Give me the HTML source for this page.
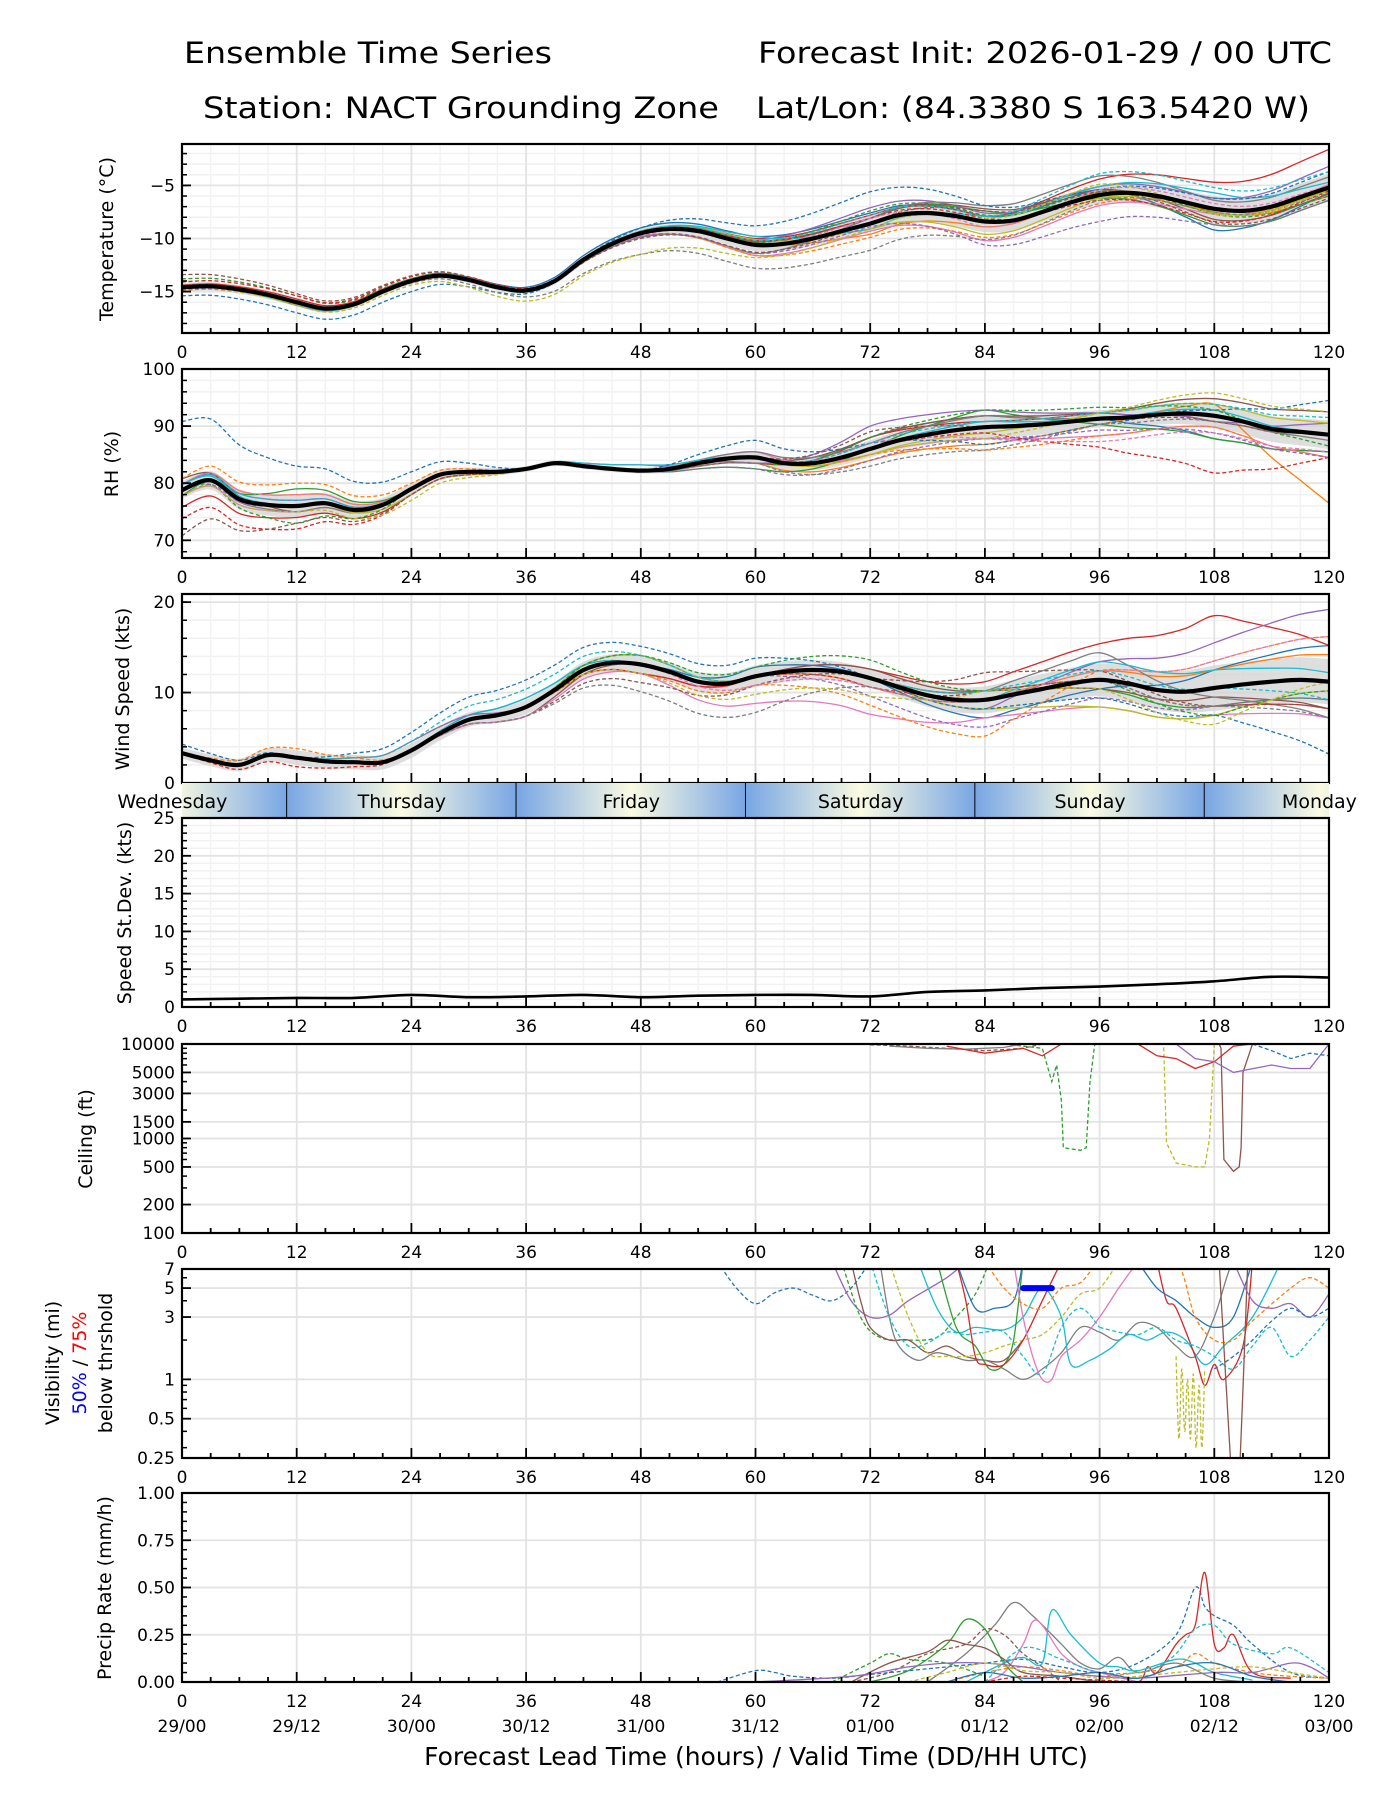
<!DOCTYPE html>
<html><head><meta charset="utf-8"><style>
html,body{margin:0;padding:0;background:#fff}
svg{display:block;font-family:"DejaVu Sans","Liberation Sans",sans-serif}
</style></head><body>
<svg id="chart" xmlns="http://www.w3.org/2000/svg" width="1400" height="1800" viewBox="0 0 1400 1800">
<rect width="1400" height="1800" fill="#fff"/>
<text x="368" y="63" font-size="29" text-anchor="middle" textLength="368" lengthAdjust="spacingAndGlyphs">Ensemble Time Series</text>
<text x="461" y="118" font-size="29" text-anchor="middle" textLength="516" lengthAdjust="spacingAndGlyphs">Station: NACT Grounding Zone</text>
<text x="1045" y="63" font-size="29" text-anchor="middle" textLength="574" lengthAdjust="spacingAndGlyphs">Forecast Init: 2026-01-29 / 00 UTC</text>
<text x="1033" y="118" font-size="29" text-anchor="middle" textLength="554" lengthAdjust="spacingAndGlyphs">Lat/Lon: (84.3380 S 163.5420 W)</text>
<g id="root"></g>
</svg>
<script>
// ---------- data ----------
const hours3 = [0,3,6,9,12,15,18,21,24,27,30,33,36,39,42,45,48,51,54,57,60,63,66,69,72,75,78,81,84,87,90,93,96,99,102,105,108,111,114,117,120];
const hours12 = [0,12,24,36,48,60,72,84,96,108,120];
const tempMean = [-14.6,-14.5,-14.8,-15.3,-16.0,-16.6,-16.2,-15.0,-14.0,-13.5,-13.9,-14.6,-14.9,-14.0,-12.0,-10.5,-9.5,-9.1,-9.3,-10.0,-10.6,-10.5,-10.0,-9.3,-8.6,-7.8,-7.6,-7.9,-8.4,-8.3,-7.5,-6.6,-5.9,-5.7,-6.0,-6.6,-7.2,-7.4,-7.0,-6.1,-5.2];
const rhMean = [78.8,80.5,77.2,76.2,76.0,76.5,75.3,76.2,79.0,81.5,82.0,82.0,82.5,83.5,83.0,82.5,82.2,82.5,83.5,84.3,84.5,83.5,83.5,84.5,86.0,87.5,88.5,89.3,89.8,90.0,90.3,90.8,91.3,91.5,92.0,92.2,91.8,90.8,89.5,89.0,88.5];
const windMean = [3.3,2.5,2.0,3.1,2.8,2.4,2.3,2.3,3.6,5.5,7.0,7.5,8.4,10.3,12.5,13.3,13.1,12.3,11.2,11.0,11.8,12.3,12.5,12.3,11.6,10.6,9.7,9.2,9.2,9.8,10.4,11.0,11.4,11.0,10.3,10.1,10.5,10.9,11.2,11.4,11.2];
const tempSpread = [0.4,0.4,0.3,0.3,0.4,0.6,0.8,1.0,0.9,1.2,1.3];
const rhSpread = [1.5,2,1,0.5,0.5,1,1.5,2,1.5,2,2.5];
const windSpread = [0.6,0.8,0.8,0.8,1,1.2,1.0,1.5,1.8,2.5,2.5];
const tempOff = [
[0,0,0.2,0.3,0.5,0.8,1.0,0.5,0.5,-2.0,-0.5],[0,-0.2,-0.1,0,0,0.2,-1,-0.5,0.3,-0.3,-0.8],[0.1,0,0,0.1,0.2,0.4,0.5,1.0,-0.3,-1.5,-1.2],[0.2,0.3,0.2,0,0,0.6,0.8,0.5,1.5,2.5,3.6],[0,0.1,0,0,0.2,0.5,1.5,0.8,0.8,1.0,2.0],
[0,0,0.1,0,0.1,0.3,0.5,1.2,0.5,-1.0,-0.6],[-0.1,0,-0.1,0,-0.3,-1.0,-0.7,-1.8,-1.0,-0.5,0.3],[0,0,0,0,-0.4,-0.8,0.5,1.5,1.8,0.8,1.0],[-0.1,0,0,0,0.2,0.5,-0.5,-1.2,-0.3,-0.4,-0.2],[0,-0.3,0,0,0.1,0.8,-0.5,0.5,0.8,1.5,0.5],
[-0.8,-1.0,-1.0,-0.3,0.5,1.8,3.0,1.5,0.5,1.0,1.5],[-0.3,-0.2,0,0,-0.3,-1.0,-1.3,-1.5,-0.8,0,-0.4],[0.8,0.6,0.2,0.2,0,0.2,1.2,0.6,0.3,-0.5,-0.8],[0.5,0.6,0.4,0.2,0,0.4,0.5,0.3,-0.5,-1.2,-0.3],[-0.2,-0.2,0,0,-0.3,-0.8,-0.3,-2.2,-2.5,-1.5,-1.2],
[1.2,0.8,0.5,0,-0.5,-0.7,0,1.0,0.3,-1.3,-1.0],[0,-0.1,0,0,-0.2,0,0.5,-0.5,0.5,0.5,0.2],[0.2,0,-0.2,-0.6,-2.0,-2.2,-2.5,-1.7,-0.5,-0.3,-0.5],[-0.1,-0.3,-0.4,-1.0,-2.0,-1.2,-0.5,0.3,1.0,-0.5,-0.3],[0,0,0,0,0.2,0.4,0.8,0.5,2.0,2.0,1.5]];
const rhOff = [
[0,0,0,0,0,0,2,2,0,-4,-3],[1,2,0,0,0,-1,-2,-3,-1,2,-12],[-1,3,0,0,0,-2,0,3,-1,-4,-3],[-3,-2,-1,0,0,-1,2,1,1,-1,0],[1,1,0,0,1,-1,4,3,1,-1,2],
[2,-1,0,0,0,0,2,2,1,3,4],[-1,-1,0,0,0,1,-1,-2,-3,-2,-4],[0,-1,0,0,0,1,1,2,0,0,-1],[0,0,-1,0,0,0,-1,-1,1,2,2],[1,0,0,0,1,0,0,1,0,1,0],
[12,7,3,0,0,3,1,-3,-1,1,6],[2,4,1,0,0,0,-1,-4,-3,-2,-4],[0,-3,0,0,0,-1,2,3,2,1,-2],[-5,-4,-1,0,0,0,0,-1,-5,-10,-4],[-1,0,0,0,0,-2,-2,-2,-2,-3,-4],
[-8,-3,-1,0,0,0,3,0,0,-1,0],[1,2,0,0,0,0,1,-2,-4,-3,-3],[0,0,0,0,0,-1,-3,-4,-1,-1,0],[-1,-1,-2,0,0,0,-1,-2,1,4,4],[1,1,0,0,0,0,1,1,1,2,3]];
const windOff = [
[0,0,0,1,0,1,0,-2,-1,2,4],[0,0,0,0,0,0,-1,0,1,2,3],[0,0,0,0,1,0,0,1,-1,-2,-2],[0,0,0,0,-1,0,1,2,4,8,4],[0,0,0,0,1,0,0,-1,2,5,8],
[0,0,0,-1,0,0,1,1,-1,-1,-3],[0,0,0,-1,-1,-3,-4,-2,-3,-3,-4],[0,0,1,0,0,0,0,1,3,-1,-4],[0,0,0,0,1,0,0,-1,-3,-3,-1],[0,0,0,1,0,0,0,0,2,2,1],
[1,0,2,3,2,2,0,-1,-2,-3,-8],[0,1,0,0,-1,-1,-3,-4,1,3,5],[0,0,0,0,1,1,2,1,0,-3,-1],[0,-1,0,0,-1,0,-1,1,0,-2,-3],[0,0,1,0,0,0,-2,-3,-2,-2,-2],
[0,0,0,-1,-2,-1,0,3,1,-2,-3],[0,0,0,0,0,-1,-1,0,1,3,5],[0,0,0,-1,-3,-4,-1,0,0,-2,-4],[0,0,0,0,-1,-2,-2,1,-1,-4,0],[0,0,1,2,1,0,0,1,1,0,-2]];
const sdHours = [0,6,12,18,24,30,36,42,48,54,60,66,72,78,84,90,96,102,108,114,120];
const sdValues = [1.0,1.1,1.2,1.2,1.6,1.3,1.4,1.6,1.3,1.5,1.6,1.6,1.4,2.0,2.2,2.5,2.7,3.0,3.4,4.0,3.9];
const ceilHours = [[86,90,91,91.5,92,92.2,94,94.6,95,95.5],[101,102.7,103,104,106,107,107.5,108],[108.5,108.7,109,110,110.6,110.8,111,112],[72,76,80,84,88,90],[74,78,82,86,88],[80,84,88,90,92],[100,102,104,106,108,110,112],[104,106,108,110,114,116,118,120],[112,114,116,118,120]];
const ceilValues = [[10000,9000,4000,6000,2500,800,750,800,4000,10000],[10000,10000,900,550,500,500,1000,10000],[10000,9000,600,450,500,800,5000,10000],[9800,9500,9000,8500,9000,10000],[9500,9000,8800,9200,10000],[9500,8000,9000,7500,10000],[10000,7500,7000,5500,6500,9500,10000],[10000,7000,6500,5000,6000,5500,5500,10000],[10000,8500,7000,8000,7500]];
const visHours = [[56,58,60,62,64,66,68,70,72],[68,70,72,74,76,80,82],[69,71,73,76,79,81,83,84.5],[70,71,72,74,76,78,80,82,84,86,88],[73,74,75,77,79,82,84,86,88,90,92,94,96,98,100,102,104,106,108,110,112],[74,76,78,80,82,84,86,88,90,92,94,96,98],[77,79,81,83,86,88,90,92,93,95,97,99,101,103,105,107,109,112,115],[79,81,83,84.5,86,87,88],[81,82,83,84,86,88,90,92],[102,103,104,106,107,108,109,111,112],[81,83,85,87,88],[100,102,104,106,108,110,112],[87,88,89,90,91,92,94,96,98,100],[72,74,76,78,80,82,84,86,88,90,92,94,96],[96,98,100,102,104,106,108,110,112,114,116,118,120],[84,86,88,90,92,94,96,98],[100,104,106,108,110,112,116,118,120],[104,104.3,104.6,104.9,105.2,105.5,105.8,106.1,106.4,106.7,107],[108.5,109.2,110,110.5,111.5],[110,112,114,116,118,120],[108,110,112,114,116,118,120]];
const visValues = [[8,5,3.8,4.6,5,4.4,4,5,8],[8,4,3,3.1,4,6,8],[8,3,2.1,2,2.1,3,4.5,8],[8,4,2.5,2,2,1.6,1.8,1.5,1.4,1.4,2],[8,3,1.8,1.4,1.6,1.4,1.4,1.2,1.0,1.2,1.6,2.5,2.3,2.0,2.7,2.5,1.8,1.5,3,8,8],[8,3,1.6,1.5,1.5,1.6,1.8,2.0,2.2,3,4.5,5,8],[8,3.5,2.3,2.5,2.4,3,5,3,1.3,1.4,1.7,2.2,2.0,2.3,2.0,1.3,1.8,3,8],[8,2.5,1.8,1.2,1.3,2,8],[8,4,1.5,1.3,1.3,2,4,8],[8,4,3.5,1.5,0.9,1.3,1.0,1.8,8],[8,3.5,3.5,4,8],[8,5,4,3,2.5,3,8],[8,3,1.5,1.0,1.0,1.5,2,3,5,8],[8,3,1.8,1.9,2.3,2.2,2.3,2.3,1.5,1.1,2.5,3.5,2.5],[2.5,2.3,2.2,2.5,2.0,1.8,1.5,1.2,1.8,2.5,1.5,2,3],[8,5,3.8,3.5,5,5.5,8,8],[8,8,3,2,2,2.8,5,6,5],[1.5,0.35,1.2,0.4,1.0,0.35,1.1,0.3,0.9,0.3,1.2],[8,1,0.12,0.12,8],[8,4,3.5,3.8,3,4.5],[1.2,1.5,2,2.8,3.5,3,3.5]];
const visColors = [0,4,2,5,7,8,9,2,3,3,0,0,6,9,9,1,1,8,5,4,0];
const visDashed = [1,0,1,0,0,1,0,0,0,0,0,0,0,1,1,1,1,1,0,0,1];
const thrHours = [88,91];
const thrValues = [5,5];
const prHours = [[56,60,62,64,68,72,76,80,84,88,92,96,100,104,106,107,108,110,112,116,120],[96,100,101,102,104,105,106,107,108,109,110,112,116],[78,82,85,87,89,92,94,96,98,100,104,108,112],[82,86,88,90,91,93,96,98,100,104,106,108,112],[84,86,88,89,90,92,94,96,100],[70,74,78,82,84,86,88,90,92],[72,76,80,82,84,86,88],[68,72,74,76,80,84],[70,74,78,80,82,84,86,88,92,96],[84,88,92,96,100,102,104,106,108,110,114,116,120],[80,84,88,92,96,100,104,106,108,112,116,120],[60,70,76,80,84,88,92,96,100,108,112,116,118,120],[76,80,84,88,92,96,100,104,108,112,116,120],[80,84,88,92,96,100,104,108,112,116],[84,88,92,96,100]];
const prValues = [[0,0.06,0.05,0.03,0.02,0.04,0.06,0.08,0.1,0.12,0.08,0.05,0.1,0.25,0.5,0.4,0.35,0.3,0.2,0.05,0.02],[0,0,0.08,0.05,0.2,0.25,0.3,0.58,0.2,0.18,0.25,0.05,0.02],[0,0.15,0.3,0.42,0.35,0.2,0.1,0.07,0.13,0.05,0.1,0.02,0],[0,0.1,0.13,0.1,0.38,0.25,0.1,0.08,0.06,0.12,0.1,0.05,0.01],[0,0.05,0.2,0.32,0.3,0.15,0.08,0.05,0],[0,0.05,0.15,0.2,0.28,0.25,0.15,0.08,0],[0,0.06,0.2,0.33,0.28,0.1,0],[0,0.1,0.15,0.12,0.1,0.03],[0,0.1,0.16,0.22,0.2,0.18,0.12,0.05,0.03,0],[0,0.18,0.12,0.05,0.05,0.08,0.15,0.28,0.3,0.2,0.15,0.18,0.05],[0,0.05,0.08,0.06,0.03,0.05,0.08,0.15,0.1,0.05,0.03,0.02],[0,0.03,0.08,0.1,0.1,0.08,0.05,0.03,0.02,0.05,0.05,0.1,0.08,0.02],[0,0.05,0.1,0.06,0.05,0.02,0.03,0.05,0.07,0.08,0.05,0.02],[0,0.05,0.02,0.03,0.05,0.02,0.08,0.1,0.03,0],[0,0.03,0.02,0.01,0]];
const prColors = [0,3,7,9,6,5,2,2,5,9,1,4,8,0,3];
const prDashed = [1,0,0,0,0,1,0,1,0,1,1,0,1,0,1];
const dayNames = ["Wednesday","Thursday","Friday","Saturday","Sunday","Monday"];
const dayEnds = [11,35,59,83,107,131];
const xTickLabels = ["0","12","24","36","48","60","72","84","96","108","120"];
const dateLabels = ["29/00","29/12","30/00","30/12","31/00","31/12","01/00","01/12","02/00","02/12","03/00"];

// ---------- helpers ----------
const NS = "http://www.w3.org/2000/svg";
const root = document.getElementById("root");
const COL = ["#1f77b4","#ff7f0e","#2ca02c","#d62728","#9467bd","#8c564b","#e377c2","#7f7f7f","#bcbd22","#17becf"];
const X0 = 182, X1 = 1329;
function X(h){ return X0 + h*(X1-X0)/120; }
function mk(tag, attrs, parent){ const e=document.createElementNS(NS,tag); for(const k in attrs) e.setAttribute(k,attrs[k]); (parent||root).appendChild(e); return e; }
function txt(s,x,y,size,anchor,parent){ const t=mk("text",{x:x,y:y,"font-size":size,"text-anchor":anchor||"middle"},parent); t.textContent=s; return t; }
function interp(xs,ys,x){ if(x<=xs[0]) return ys[0]; for(let i=1;i<xs.length;i++){ if(x<=xs[i]){ const f=(x-xs[i-1])/(xs[i]-xs[i-1]); return ys[i-1]+f*(ys[i]-ys[i-1]); } } return ys[ys.length-1]; }
function smooth(p){ if(p.length<2) return ""; let d="M"+p[0][0].toFixed(1)+","+p[0][1].toFixed(1);
  for(let i=0;i<p.length-1;i++){ const p0=p[i-1]||p[i],p1=p[i],p2=p[i+1],p3=p[i+2]||p2;
    const c1x=p1[0]+(p2[0]-p0[0])/6,c1y=p1[1]+(p2[1]-p0[1])/6,c2x=p2[0]-(p3[0]-p1[0])/6,c2y=p2[1]-(p3[1]-p1[1])/6;
    d+="C"+c1x.toFixed(1)+","+c1y.toFixed(1)+" "+c2x.toFixed(1)+","+c2y.toFixed(1)+" "+p2[0].toFixed(1)+","+p2[1].toFixed(1);} return d; }
const defs = mk("defs",{});
function panel(name, top, ymin, ymax, log){
  const P={top:top,bot:top+189,ymin:ymin,ymax:ymax,log:log,name:name};
  P.Y = log ? (v)=>P.bot-189*(Math.log(Math.max(v,1e-3)/ymin)/Math.log(ymax/ymin)) : (v)=>P.bot-189*(v-ymin)/(ymax-ymin);
  const cp=mk("clipPath",{id:"clip-"+name},defs); mk("rect",{x:X0,y:top,width:X1-X0,height:189},cp);
  P.g=mk("g",{});  
  P.grid=mk("g",{},P.g);
  P.data=mk("g",{"clip-path":"url(#clip-"+name+")"},P.g);
  P.axes=mk("g",{},P.g);
  return P;
}
function frame(P, majors, minors, labels, minorGrid, xMinorGrid, bottomLabels, noXLabels){
  minors.forEach(v=>{ const y=P.Y(v); if(minorGrid) mk("line",{x1:X0,x2:X1,y1:y,y2:y,stroke:"#f1f1f1","stroke-width":1.5},P.grid); mk("line",{x1:X0,x2:X0+5,y1:y,y2:y,stroke:"#000","stroke-width":1.5},P.axes); });
  if(xMinorGrid) for(let h=3;h<120;h+=3){ if(h%12) mk("line",{x1:X(h),x2:X(h),y1:P.top,y2:P.bot,stroke:"#f3f3f3","stroke-width":1.5},P.grid); }
  for(let h=12;h<120;h+=12) mk("line",{x1:X(h),x2:X(h),y1:P.top,y2:P.bot,stroke:"#e3e3e3","stroke-width":1.8},P.grid);
  majors.forEach((v,i)=>{ const y=P.Y(v); if(y>P.top+1&&y<P.bot-1) mk("line",{x1:X0,x2:X1,y1:y,y2:y,stroke:"#e3e3e3","stroke-width":1.8},P.grid);
    mk("line",{x1:X0,x2:X0+9,y1:y,y2:y,stroke:"#000","stroke-width":1.8},P.axes);
    const t=txt(labels[i],X0-7,y+6,17,"end",P.axes);
    
     });
  for(let h=0;h<=120;h+=3){ const L=(h%12)?5:10; mk("line",{x1:X(h),x2:X(h),y1:P.bot,y2:P.bot-L,stroke:"#000","stroke-width":1.8},P.axes); }
  const r=mk("rect",{x:X0,y:P.top,width:X1-X0,height:189,fill:"none",stroke:"#000","stroke-width":2.2},P.axes);
  
  
  if(!noXLabels) xTickLabels.forEach((s,i)=>{ const t=txt(s,X(i*12),P.bot+25,17,"middle",P.axes);
    
     });
  if(bottomLabels) dateLabels.forEach((s,i)=>{ const t=txt(s,X(i*12),P.bot+50,17,"middle",P.axes);
    
     });
}
function ylabel(lines, x, cy, colorsList){
  const t=mk("text",{transform:"translate("+x+","+cy+") rotate(-90)","font-size":19,"text-anchor":"middle"});
  
  
  lines.forEach((s,i)=>{ const ts=mk("tspan",{fill:colorsList?colorsList[i]:"#000"},t); ts.textContent=s; });
  return t;
}
function ensemble(P, mean, spread, offs, clampMin, clampMax){
  const up=[],dn=[];
  hours3.forEach((h,i)=>{ const s=interp(hours12,spread,h); up.push([X(h),P.Y(mean[i]+s)]); dn.push([X(h),P.Y(mean[i]-s)]); });
  const band=mk("path",{d:smooth(up)+"L"+smooth(dn.slice().reverse()).slice(1)+"Z",fill:"#d3d3d3","fill-opacity":0.75},P.data);
  
  
  offs.forEach((o,m)=>{ const pts=hours3.map((h,i)=>{ let v=mean[i]+interp(hours12,o,h); v=Math.max(clampMin,Math.min(clampMax,v)); return [X(h),P.Y(v)]; });
    const pa=mk("path",{d:smooth(pts),fill:"none",stroke:COL[m%10],"stroke-width":1.3,"stroke-dasharray":m>=10?"4,2.5":"none"},P.data);
    
     });
  const ml=mk("path",{d:smooth(hours3.map((h,i)=>[X(h),P.Y(mean[i])])),fill:"none",stroke:"#000","stroke-width":4.2},P.data);
  
  
}
function seriesLines(P, hs, vs, colors, dashed, smoothIt, nm, width){
  hs.forEach((hh,k)=>{ const pts=hh.map((h,i)=>[X(h),P.Y(vs[k][i])]);
    const d=smoothIt?smooth(pts):"M"+pts.map(p=>p[0].toFixed(1)+","+p[1].toFixed(1)).join("L");
    const pa=mk("path",{d:d,fill:"none",stroke:COL[colors[k]],"stroke-width":width||1.3,"stroke-dasharray":dashed[k]?"4,2.5":"none"},P.data);
    
     });
}
function range(a,b,s){ const r=[]; for(let v=a;v<=b+1e-9;v+=s) r.push(+v.toFixed(3)); return r; }

// ---------- Temperature ----------
const PT=panel("temperature",144,-18.9,-1.1,false);
frame(PT,[-15,-10,-5],range(-18,-2,1),["\u221215","\u221210","\u22125"],true,true);
ensemble(PT,tempMean,tempSpread,tempOff,-30,10);
ylabel(["Temperature (\u00b0C)"],113,239);

// ---------- RH ----------
const PR=panel("rh",369,66.9,100,false);
frame(PR,[70,80,90,100],range(68,100,2),["70","80","90","100"],true,true);
ensemble(PR,rhMean,rhSpread,rhOff,0,100);
ylabel(["RH (%)"],118,464);

// ---------- Wind ----------
const PW=panel("wind",594,0,20.9,false);
frame(PW,[0,10,20],range(0,20,2),["0","10","20"],true,true,false,true);
ensemble(PW,windMean,windSpread,windOff,0,40);
ylabel(["Wind Speed (kts)"],129,689);

// ---------- Day bar ----------
(function(){
  const g=mk("g",{});  
  const cp=mk("clipPath",{id:"clip-day"},defs); mk("rect",{x:X0,y:783,width:X1-X0,height:35},cp);
  const gg=mk("g",{"clip-path":"url(#clip-day)"},g);
  dayEnds.forEach((e,i)=>{ const id="dg"+i;
    const lg=mk("linearGradient",{id:id,gradientUnits:"userSpaceOnUse",x1:X(e-24),x2:X(e),y1:0,y2:0},defs);
    mk("stop",{offset:"0","stop-color":"#78a6e4"},lg); mk("stop",{offset:"0.5","stop-color":"#fbfbe2"},lg); mk("stop",{offset:"1","stop-color":"#78a6e4"},lg);
    const r=mk("rect",{x:X(e-24),y:783,width:X(e)-X(e-24),height:35,fill:"url(#"+id+")"},gg);
    
    
    if(e<120){ mk("line",{x1:X(e),x2:X(e),y1:783,y2:818,stroke:"#000","stroke-width":2},gg); } });
  dayNames.forEach((s,i)=>{ const t=txt(s,X(dayEnds[i]-12),808,19,"middle",g);
    
     });
})();

// ---------- Std dev ----------
const PS=panel("stddev",818,0,25,false);
frame(PS,[0,5,10,15,20,25],range(0,25,1),["0","5","10","15","20","25"],true,true);
(function(){ const pa=mk("path",{d:smooth(sdHours.map((h,i)=>[X(h),PS.Y(sdValues[i])])),fill:"none",stroke:"#000","stroke-width":2.6},PS.data);
  
   })();
ylabel(["Speed St.Dev. (kts)"],131,913);

// ---------- Ceiling ----------
const PC=panel("ceiling",1044,100,10000,true);
frame(PC,[100,200,500,1000,1500,3000,5000,10000],[300,400,600,700,800,900,2000,4000,6000,7000,8000,9000],["100","200","500","1000","1500","3000","5000","10000"],false,false);
seriesLines(PC,ceilHours,ceilValues,[2,8,5,5,7,3,3,4,0],[1,1,0,1,0,0,0,0,1],false,"ceiling-member-line");
ylabel(["Ceiling (ft)"],92,1139);

// ---------- Visibility ----------
const PV=panel("visibility",1269,0.25,7,true);
frame(PV,[0.25,0.5,1,3,5,7],[0.3,0.4,0.6,0.7,0.8,0.9,2,4,6],["0.25","0.5","1","3","5","7"],false,false);
seriesLines(PV,visHours,visValues,visColors,visDashed,true,"visibility-member-line");
(function(){ const pa=mk("path",{d:"M"+X(thrHours[0])+","+PV.Y(thrValues[0])+"L"+X(thrHours[1])+","+PV.Y(thrValues[1]),stroke:"#0000ff","stroke-width":6,"stroke-linecap":"round"},PV.data);
  
   })();
(function(){
  const a=mk("text",{transform:"translate(59,1363) rotate(-90)","font-size":19,"text-anchor":"middle"}); a.textContent="Visibility (mi)";
   
  const b=mk("text",{transform:"translate(86,1363) rotate(-90)","font-size":19,"text-anchor":"middle"});
   
  const t1=mk("tspan",{fill:"#0000ff"},b); t1.textContent="50%";
  const t2=mk("tspan",{fill:"#000"},b); t2.textContent=" / ";
  const t3=mk("tspan",{fill:"#ff0000"},b); t3.textContent="75%";
  const c=mk("text",{transform:"translate(112,1363) rotate(-90)","font-size":19,"text-anchor":"middle"}); c.textContent="below thrshold";
   
})();

// ---------- Precip ----------
const PP=panel("precip",1493,0,1,false);
frame(PP,[0,0.25,0.5,0.75,1.0],range(0.05,0.95,0.05),["0.00","0.25","0.50","0.75","1.00"],false,false,true);
seriesLines(PP,prHours,prValues,prColors,prDashed,true,"precip-member-line");
ylabel(["Precip Rate (mm/h)"],111,1588);

(function(){ const t=txt("Forecast Lead Time (hours) / Valid Time (DD/HH UTC)",756,1765,25,"middle");
  
   })();
</script>
</body></html>
